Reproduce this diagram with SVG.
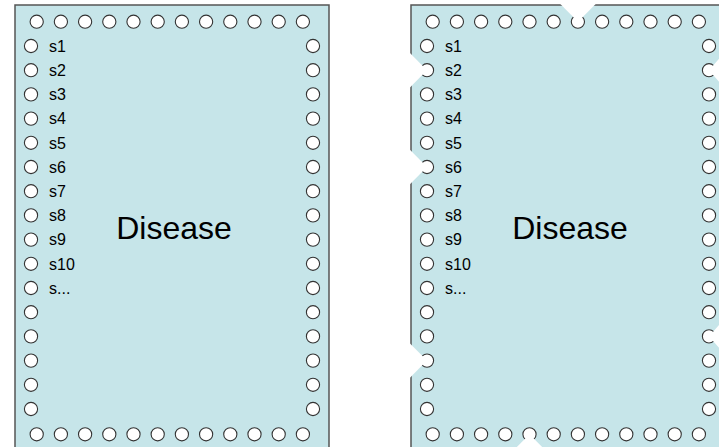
<svg xmlns="http://www.w3.org/2000/svg" xmlns:xlink="http://www.w3.org/1999/xlink" width="719" height="447" viewBox="0 0 719 447">
<defs>
<style>
.box{fill:#c6e5e9;stroke:#555555;stroke-width:1.5}
.p{fill:#ffffff;stroke:#333333;stroke-width:1.1}
.n{fill:#ffffff;stroke:none}
.lbl{font-family:"Liberation Sans",Arial,sans-serif;font-size:16px;fill:#000}
.title{font-family:"Liberation Sans",Arial,sans-serif;font-size:32px;fill:#000;text-anchor:middle}
</style>
<g id="pins">
<circle class="p" cx="36.7" cy="21.7" r="6.6"/><circle class="p" cx="60.9" cy="21.7" r="6.6"/><circle class="p" cx="85.1" cy="21.7" r="6.6"/><circle class="p" cx="109.3" cy="21.7" r="6.6"/><circle class="p" cx="133.5" cy="21.7" r="6.6"/><circle class="p" cx="157.7" cy="21.7" r="6.6"/><circle class="p" cx="181.9" cy="21.7" r="6.6"/><circle class="p" cx="206.1" cy="21.7" r="6.6"/><circle class="p" cx="230.3" cy="21.7" r="6.6"/><circle class="p" cx="254.5" cy="21.7" r="6.6"/><circle class="p" cx="278.7" cy="21.7" r="6.6"/><circle class="p" cx="302.9" cy="21.7" r="6.6"/>
<circle class="p" cx="36.7" cy="434.3" r="6.6"/><circle class="p" cx="60.9" cy="434.3" r="6.6"/><circle class="p" cx="85.1" cy="434.3" r="6.6"/><circle class="p" cx="109.3" cy="434.3" r="6.6"/><circle class="p" cx="133.5" cy="434.3" r="6.6"/><circle class="p" cx="157.7" cy="434.3" r="6.6"/><circle class="p" cx="181.9" cy="434.3" r="6.6"/><circle class="p" cx="206.1" cy="434.3" r="6.6"/><circle class="p" cx="230.3" cy="434.3" r="6.6"/><circle class="p" cx="254.5" cy="434.3" r="6.6"/><circle class="p" cx="278.7" cy="434.3" r="6.6"/><circle class="p" cx="302.9" cy="434.3" r="6.6"/>
<circle class="p" cx="31" cy="46" r="6.6"/><circle class="p" cx="31" cy="70.2" r="6.6"/><circle class="p" cx="31" cy="94.4" r="6.6"/><circle class="p" cx="31" cy="118.6" r="6.6"/><circle class="p" cx="31" cy="142.8" r="6.6"/><circle class="p" cx="31" cy="167" r="6.6"/><circle class="p" cx="31" cy="191.2" r="6.6"/><circle class="p" cx="31" cy="215.4" r="6.6"/><circle class="p" cx="31" cy="239.6" r="6.6"/><circle class="p" cx="31" cy="263.8" r="6.6"/><circle class="p" cx="31" cy="288" r="6.6"/><circle class="p" cx="31" cy="312.2" r="6.6"/><circle class="p" cx="31" cy="336.4" r="6.6"/><circle class="p" cx="31" cy="360.6" r="6.6"/><circle class="p" cx="31" cy="384.8" r="6.6"/><circle class="p" cx="31" cy="409" r="6.6"/>
<circle class="p" cx="313" cy="46" r="6.6"/><circle class="p" cx="313" cy="70.2" r="6.6"/><circle class="p" cx="313" cy="94.4" r="6.6"/><circle class="p" cx="313" cy="118.6" r="6.6"/><circle class="p" cx="313" cy="142.8" r="6.6"/><circle class="p" cx="313" cy="167" r="6.6"/><circle class="p" cx="313" cy="191.2" r="6.6"/><circle class="p" cx="313" cy="215.4" r="6.6"/><circle class="p" cx="313" cy="239.6" r="6.6"/><circle class="p" cx="313" cy="263.8" r="6.6"/><circle class="p" cx="313" cy="288" r="6.6"/><circle class="p" cx="313" cy="312.2" r="6.6"/><circle class="p" cx="313" cy="336.4" r="6.6"/><circle class="p" cx="313" cy="360.6" r="6.6"/><circle class="p" cx="313" cy="384.8" r="6.6"/><circle class="p" cx="313" cy="409" r="6.6"/>
</g>
</defs>
<rect x="0" y="0" width="719" height="447" fill="#ffffff"/>
<g id="disease-left">
<rect class="box" x="15" y="5" width="314" height="447"/>
<use xlink:href="#pins" href="#pins"/>
<text class="lbl" x="49" y="51.7">s1</text>
<text class="lbl" x="49" y="75.9">s2</text>
<text class="lbl" x="49" y="100.1">s3</text>
<text class="lbl" x="49" y="124.3">s4</text>
<text class="lbl" x="49" y="148.5">s5</text>
<text class="lbl" x="49" y="172.7">s6</text>
<text class="lbl" x="49" y="196.9">s7</text>
<text class="lbl" x="49" y="221.1">s8</text>
<text class="lbl" x="49" y="245.3">s9</text>
<text class="lbl" x="49" y="269.5">s10</text>
<text class="lbl" x="49" y="293.7">s...</text>
<text class="title" x="174" y="239">Disease</text>
</g>
<g id="disease-right">
<rect class="box" x="411" y="5" width="314" height="447"/>
<use xlink:href="#pins" href="#pins" x="396"/>
<polygon class="n" points="556.3,0 599.7,0 578,21.7"/>
<polygon class="n" points="404,47 404,93.4 427,70.2"/>
<polygon class="n" points="404,143.8 404,190.2 427,167"/>
<polygon class="n" points="404,337.4 404,383.8 427,360.6"/>
<polygon class="n" points="730,46.2 730,94.2 709,70.2"/>
<polygon class="n" points="730,312.4 730,360.4 709,336.4"/>
<polygon class="n" points="511,452.8 548,452.8 529.5,434.3"/>
<text class="lbl" x="445" y="51.7">s1</text>
<text class="lbl" x="445" y="75.9">s2</text>
<text class="lbl" x="445" y="100.1">s3</text>
<text class="lbl" x="445" y="124.3">s4</text>
<text class="lbl" x="445" y="148.5">s5</text>
<text class="lbl" x="445" y="172.7">s6</text>
<text class="lbl" x="445" y="196.9">s7</text>
<text class="lbl" x="445" y="221.1">s8</text>
<text class="lbl" x="445" y="245.3">s9</text>
<text class="lbl" x="445" y="269.5">s10</text>
<text class="lbl" x="445" y="293.7">s...</text>
<text class="title" x="570" y="239">Disease</text>
</g>
<g id="connectors"/>
</svg>
